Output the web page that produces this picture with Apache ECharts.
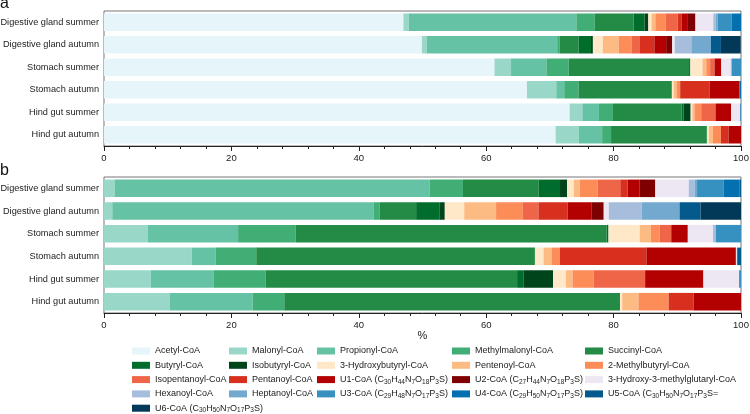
<!DOCTYPE html>
<html>
<head>
<meta charset="utf-8">
<script src="https://cdn.jsdelivr.net/npm/echarts@6/dist/echarts.min.js"></script>
<style>
  html, body { margin: 0; padding: 0; background: #fff; }
  #chart { width: 750px; height: 414px; }
</style>
</head>
<body>
<div id="chart"></div>
<script>
  // rows of both panels, top to bottom
  var categories = ['Digestive gland summer', 'Digestive gland autumn', 'Stomach summer',
    'Stomach autumn', 'Hind gut summer', 'Hind gut autumn']

  var compounds = ['Acetyl-CoA', 'Malonyl-CoA', 'Propionyl-CoA', 'Methylmalonyl-CoA', 'Succinyl-CoA',
    'Butyryl-CoA', 'Isobutyryl-CoA', '3-Hydroxybutyryl-CoA', 'Pentenoyl-CoA', '2-Methylbutyryl-CoA',
    'Isopentanoyl-CoA', 'Pentanoyl-CoA', 'U1-CoA (C30H44N7O18P3S)', 'U2-CoA (C27H44N7O18P3S)',
    '3-Hydroxy-3-methylglutaryl-CoA', 'Hexanoyl-CoA', 'Heptanoyl-CoA', 'U3-CoA (C29H48N7O17P3S)',
    'U4-CoA (C29H50N7O17P3S)', 'U5-CoA (C30H50N7O17P3S=', 'U6-CoA (C30H50N7O17P3S)']

  var colors = ['#e5f5f9', '#99d8c9', '#66c2a4', '#41ae76', '#238b45',
    '#006d2c', '#00441b', '#fee8c8', '#fdbb84', '#fc8d59',
    '#ef6548', '#d7301f', '#b30000', '#7f0000', '#ece7f2',
    '#a6bddb', '#74a9cf', '#3690c0', '#0570b0', '#045a8d', '#023858']

  // panel a, % of each compound (same order as compounds)
  var aDgSummer = [47.0, 0.85, 26.3, 2.9, 6.1, 1.7, 0.6, 0.5, 0.6, 1.6, 1.9, 0.6, 0.9, 1.3, 2.8, 0.4, 0.3, 2.2, 1.45, 0, 0]
  var aDgAutumn = [49.9, 0.75, 20.5, 0.4, 2.95, 1.95, 0.3, 1.55, 2.5, 2.0, 1.25, 2.35, 1.85, 0.95, 0.4, 2.6, 3.05, 0, 0, 1.6, 3.1]
  var aStSummer = [61.3, 2.6, 5.55, 3.5, 18.9, 0.2, 0, 1.9, 0.6, 0.6, 0.7, 0, 1.05, 0, 1.5, 0.15, 0, 1.45, 0, 0, 0]
  var aStAutumn = [66.4, 4.6, 1.25, 2.25, 14.65, 0, 0, 0.3, 0.5, 0.5, 0, 4.6, 4.7, 0, 0, 0, 0, 0, 0.25, 0, 0]
  var aHgSummer = [73.1, 2.0, 2.6, 2.2, 10.8, 0.3, 1.1, 0.25, 0.35, 1.05, 2.25, 0, 2.45, 0, 1.45, 0, 0, 0, 0.1, 0, 0]
  var aHgAutumn = [70.9, 3.6, 3.7, 1.4, 15.05, 0, 0, 0.3, 0.65, 1.25, 0, 1.2, 1.95, 0, 0, 0, 0, 0, 0, 0, 0]

  // panel b, without acetyl-CoA
  var bDgSummer = [0, 1.65, 49.5, 5.2, 11.9, 3.2, 1.25, 1.05, 0.95, 2.8, 3.55, 1.15, 1.9, 2.45, 5.25, 0.9, 0.4, 4.2, 2.5, 0.2, 0]
  var bDgAutumn = [0, 1.3, 41.0, 0.95, 5.75, 3.65, 0.85, 3.05, 5.0, 4.2, 2.45, 4.6, 3.7, 1.95, 0.8, 5.15, 5.95, 0, 0, 3.3, 6.35]
  var bStSummer = [0, 6.85, 14.2, 9.05, 48.8, 0.3, 0, 4.9, 1.75, 1.4, 1.8, 0, 2.6, 0, 3.95, 0.45, 0, 3.95, 0, 0, 0]
  var bStAutumn = [0, 13.8, 3.7, 6.4, 43.75, 0, 0, 1.35, 1.25, 1.3, 0, 13.6, 14.05, 0, 0.2, 0, 0, 0, 0, 0.6, 0]
  var bHgSummer = [0, 7.35, 9.9, 8.1, 39.5, 1.05, 4.6, 2.0, 1.05, 3.3, 8.1, 0, 9.15, 0, 5.6, 0, 0, 0.3, 0, 0, 0]
  var bHgAutumn = [0, 10.35, 13.0, 4.95, 52.7, 0, 0, 0.35, 2.55, 4.75, 0, 3.9, 7.45, 0, 0, 0, 0, 0, 0, 0, 0]

  var xTicks = [0, 20, 40, 60, 80, 100]

  var panelA = [aDgSummer, aDgAutumn, aStSummer, aStAutumn, aHgSummer, aHgAutumn]
  var panelB = [bDgSummer, bDgAutumn, bStSummer, bStAutumn, bHgSummer, bHgAutumn]

  var font = 'Liberation Sans, Arial, Helvetica, sans-serif'

  var grids = [
    { left: 104, right: 9, top: 11, height: 135, show: true, borderColor: '#777', borderWidth: 1,
      containLabel: false, outerBoundsMode: 'none' },
    { left: 104, right: 9, top: 177, height: 136, show: true, borderColor: '#777', borderWidth: 1,
      containLabel: false, outerBoundsMode: 'none' }
  ]

  function xAxisFor (i, name) {
    return {
      type: 'value', gridIndex: i, min: xTicks[0], max: xTicks[xTicks.length - 1], interval: 20,
      name: name, nameLocation: 'middle', nameGap: 14,
      nameTextStyle: { fontFamily: font, fontSize: 11, color: '#222' },
      axisLine: { show: true, lineStyle: { color: '#222', width: 1 } },
      axisTick: { show: true, length: 5, lineStyle: { color: '#222' } },
      minorTick: { show: true, splitNumber: 5, length: 3, lineStyle: { color: '#222' } },
      splitLine: { show: false },
      axisLabel: { fontFamily: font, fontSize: 9.5, color: '#222', margin: 7 }
    }
  }

  function yAxisFor (i) {
    return {
      type: 'category', gridIndex: i, data: categories, inverse: true,
      axisLine: { show: false }, axisTick: { show: false },
      axisLabel: { fontFamily: font, fontSize: 9.2, color: '#222', margin: 5 }
    }
  }

  var series = []
  ;[panelA, panelB].forEach(function (rows, p) {
    compounds.forEach(function (name, i) {
      series.push({
        name: name, type: 'bar', stack: 'panel' + p,
        xAxisIndex: p, yAxisIndex: p, barWidth: 17.5,
        itemStyle: { color: colors[i] },
        emphasis: { disabled: true },
        data: rows.map(function (r) { return r[i] })
      })
    })
  })

  // legend laid out as 5 columns
  var legendCols = [[0, 5, 10, 15, 20], [1, 6, 11, 16], [2, 7, 12, 17], [3, 8, 13, 18], [4, 9, 14, 19]]
  var legendLeft = [132, 229, 317, 452, 585]

  function subscripts (name) {
    var k = name.indexOf('(')
    if (k < 0) return name
    return name.slice(0, k) + name.slice(k).replace(/(\d+)/g, '{s|$1}')
  }

  var legends = legendCols.map(function (col, k) {
    return {
      orient: 'vertical', left: legendLeft[k], top: 345, height: 120, padding: 0,
      itemWidth: 18, itemHeight: 7, itemGap: 2.3, icon: 'rect', selectedMode: false,
      data: col.map(function (i) { return compounds[i] }),
      formatter: subscripts,
      textStyle: {
        fontFamily: font, fontSize: 9, color: '#222', lineHeight: 12,
        rich: { s: { fontFamily: font, fontSize: 6.5, color: '#222', lineHeight: 8, verticalAlign: 'bottom' } }
      }
    }
  })

  var option = {
    animation: false,
    backgroundColor: '#fff',
    grid: grids,
    xAxis: [xAxisFor(0, ''), xAxisFor(1, '%')],
    yAxis: [yAxisFor(0), yAxisFor(1)],
    legend: legends,
    graphic: [
      { type: 'text', left: 0, top: -4, style: { text: 'a', font: '16px ' + font, fill: '#111' } },
      { type: 'text', left: 0, top: 163, style: { text: 'b', font: '16px ' + font, fill: '#111' } }
    ],
    series: series
  }

  var myecharts = echarts.init(document.getElementById('chart'))
  myecharts.setOption(option)
</script>
</body>
</html>
